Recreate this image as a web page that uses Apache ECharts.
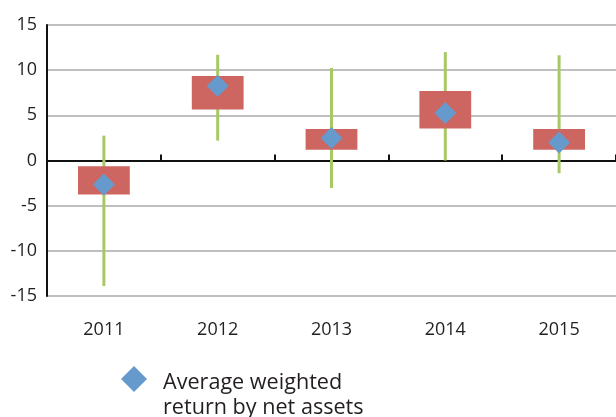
<!DOCTYPE html>
<html>
<head>
<meta charset="utf-8">
<script src="https://cdn.jsdelivr.net/npm/echarts@6/dist/echarts.min.js"></script>
<style>
  html, body { margin: 0; padding: 0; background: #ffffff; }
  #chart { width: 616px; height: 417px; }
</style>
</head>
<body>
<div id="chart"></div>
<script>
// Annual return ranges (%): full range, interquartile box and weighted average
const years = ['2011', '2012', '2013', '2014', '2015'];
const rangeLow = [-13.9, 2.2, -3.05, 0.0, -1.4];
const rangeHigh = [2.75, 11.7, 10.25, 12.0, 11.65];
const boxLow = [-3.75, 5.65, 1.2, 3.55, 1.2];
const boxHigh = [-0.65, 9.35, 3.5, 7.7, 3.5];
const average = [-2.65, 8.25, 2.5, 5.25, 2.0];
const yTicks = [-15, -10, -5, 0, 5, 10, 15];
const legendLabel = 'Average weighted\nreturn by net assets';

const FONT = '"Open Sans", Lato, sans-serif';
const TEXT = '#231f20';
const BLUE = '#6699cc';

const rangeData = years.map((y, i) => [i, rangeLow[i], rangeHigh[i]]);
const boxData = years.map((y, i) => [i, boxLow[i], boxHigh[i]]);

const chart = echarts.init(document.getElementById('chart'), null, { renderer: 'canvas' });

chart.setOption({
  animation: false,
  backgroundColor: '#ffffff',
  grid: { left: 47, top: 25, bottom: 121, right: -3, containLabel: false },
  xAxis: [
    {
      type: 'category',
      data: years,
      position: 'bottom',
      axisLine: { show: false, onZero: false },
      axisTick: { show: false },
      axisLabel: { color: TEXT, fontFamily: FONT, fontSize: 18, margin: 25 }
    },
    {
      type: 'category',
      data: years,
      position: 'bottom',
      axisLine: { show: true, onZero: true, lineStyle: { color: '#111111', width: 2 } },
      axisTick: { show: true, inside: true, length: 6, lineStyle: { color: '#111111', width: 2 } },
      axisLabel: { show: false }
    }
  ],
  yAxis: {
    type: 'value',
    min: yTicks[0],
    max: yTicks[yTicks.length - 1],
    interval: 5,
    axisLine: { show: true, lineStyle: { color: '#111111', width: 2 } },
    axisTick: { show: false },
    axisLabel: { color: TEXT, fontFamily: FONT, fontSize: 18, margin: 10 },
    splitLine: { show: true, lineStyle: { color: '#aaaaaa', width: 1.5 } }
  },
  graphic: [
    {
      type: 'group',
      left: 121,
      top: 366,
      children: [
        {
          type: 'polygon',
          shape: { points: [[13, 0], [26, 13], [13, 26], [0, 13]] },
          style: { fill: BLUE }
        },
        {
          type: 'text',
          x: 42,
          y: 4,
          style: {
            text: legendLabel,
            fill: TEXT,
            font: '21.6px ' + FONT,
            lineHeight: 25,
            verticalAlign: 'top'
          }
        }
      ]
    }
  ],
  series: [
    {
      name: 'range',
      type: 'custom',
      data: rangeData,
      z: 1,
      renderItem: (params, api) => {
        const top = api.coord([api.value(0), api.value(2)]);
        const bottom = api.coord([api.value(0), api.value(1)]);
        return {
          type: 'line',
          shape: { x1: top[0], y1: top[1], x2: bottom[0], y2: bottom[1] },
          style: { stroke: '#a8c866', lineWidth: 3 }
        };
      }
    },
    {
      name: 'box',
      type: 'custom',
      data: boxData,
      z: 2,
      renderItem: (params, api) => {
        const top = api.coord([api.value(0), api.value(2)]);
        const bottom = api.coord([api.value(0), api.value(1)]);
        const w = api.size([1, 0])[0] * 0.455;
        return {
          type: 'rect',
          shape: { x: top[0] - w / 2, y: top[1], width: w, height: bottom[1] - top[1] },
          style: { fill: '#cd6660' }
        };
      }
    },
    {
      name: 'avg',
      type: 'scatter',
      data: average,
      symbol: 'diamond',
      symbolSize: 22,
      z: 3,
      itemStyle: { color: BLUE, opacity: 1 }
    }
  ]
});
</script>
</body>
</html>
